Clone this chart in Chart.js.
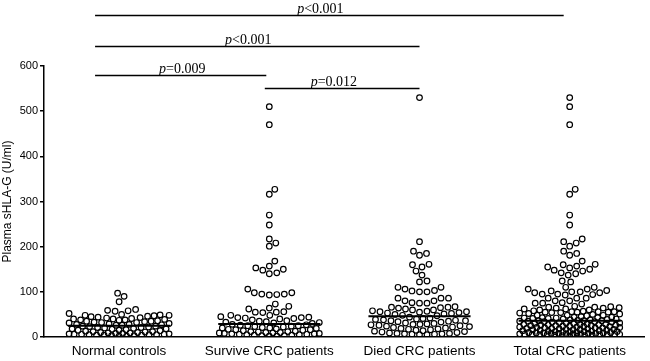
<!DOCTYPE html>
<html lang="en">

<head>
    <meta charset="UTF-8">
    <title>Plasma sHLA-G</title>
    <script src="https://cdn.jsdelivr.net/npm/chart.js@4.4.1/dist/chart.umd.min.js"></script>
    <style>
        html, body { margin: 0; padding: 0; background: #fff; }
        canvas { display: block; }
    </style>
</head>

<body>
    <canvas id="chart" width="650" height="361"></canvas>

    <script>
        const categories = ['Normal controls', 'Survive CRC patients', 'Died CRC patients', 'Total CRC patients'];
        const yTicks = [0, 100, 200, 300, 400, 500, 600];

        // plasma sHLA-G (U/ml)
        const normalControls = [
            97, 90, 78, 61, 59, 58, 57,
            52, 50, 49, 48, 48, 47, 46, 45,
            44, 43, 42, 41, 40, 40, 39, 38, 38, 37, 36, 35, 35, 34, 33, 32, 32, 31, 30, 29, 28, 28, 27, 26, 26,
            24, 24, 23, 22, 21, 21, 20, 19, 18, 18, 17, 16, 15, 15, 14, 13, 12, 12, 11, 10,
            10, 9, 9, 8, 8, 7, 7, 6, 6, 6, 5, 5, 5, 4, 4, 4, 3, 3, 2, 2
        ];
        const survivePatients = [
            510, 470, 327, 316, 270, 248, 217, 208, 201, 168, 157, 153, 150, 148, 142, 140,
            106, 98, 98, 95, 95, 94, 93, 73, 68, 64, 62, 56, 55, 55, 54, 48, 48, 45, 44, 43, 43, 42, 41, 40,
            38, 36, 35, 34, 33, 32, 31, 30,
            28, 27, 26, 25, 25, 24, 23, 22, 21, 20, 20, 19, 18, 17, 16, 16, 15, 14, 13, 12,
            12, 11, 10, 10, 9, 9, 8, 8, 7, 7, 6, 6, 5, 5, 4, 4, 3, 3, 2, 2
        ];
        const diedPatients = [
            530, 211, 190, 185, 181, 161, 160, 155, 146, 137, 124, 122,
            110, 110, 106, 103, 102, 100, 100, 86, 86, 86, 80, 80, 76, 75, 75,
            67, 66, 66, 65, 64, 62, 60, 60, 58, 57, 56, 56, 55,
            54, 53, 52, 51, 50, 48, 47,
            44, 42, 41, 40, 39, 38, 37, 36, 36, 35, 34, 33, 31, 30, 29, 28, 28, 27, 26, 25,
            24, 23, 22, 21, 20, 19, 18, 17, 16, 15, 14, 13, 12, 11, 10, 9, 8, 8, 7, 7, 6, 6, 5, 5
        ];
        const totalPatients = survivePatients.concat(diedPatients);

        const medians = [25, 29, 46, 36];

        const groups = [normalControls, survivePatients, diedPatients, totalPatients];

        // comparison bars above the plot (x in category units, level in U/ml)
        const brackets = [
            { from: -0.16, to: 2.96, level: 713, textAt: 1.34, text: '<0.001' },
            { from: -0.16, to: 2.0, level: 644, textAt: 0.86, text: '<0.001' },
            { from: -0.16, to: 0.98, level: 581, textAt: 0.42, text: '=0.009' },
            { from: 0.97, to: 2.0, level: 551, textAt: 1.43, text: '=0.012' },
        ];

        const bracketPlugin = {
            id: 'brackets',
            afterDraw(chart) {
                const { ctx, scales: { x, y } } = chart;
                ctx.save();
                ctx.strokeStyle = '#000';
                ctx.fillStyle = '#000';
                ctx.lineWidth = 1.5;
                ctx.textBaseline = 'alphabetic';
                brackets.forEach(b => {
                    const py = Math.round(y.getPixelForValue(b.level)) + 0.5;
                    ctx.beginPath();
                    ctx.moveTo(x.getPixelForValue(b.from), py);
                    ctx.lineTo(x.getPixelForValue(b.to), py);
                    ctx.stroke();

                    ctx.font = 'italic 14px "Liberation Serif"';
                    const wp = ctx.measureText('p').width;
                    ctx.font = '14px "Liberation Serif"';
                    const wt = ctx.measureText(b.text).width;
                    const tx = x.getPixelForValue(b.textAt) - (wp + wt) / 2;
                    ctx.font = 'italic 14px "Liberation Serif"';
                    ctx.fillText('p', tx, py - 3);
                    ctx.font = '14px "Liberation Serif"';
                    ctx.fillText(b.text, tx + wp, py - 3);
                });
                ctx.restore();
            }
        };

        // spread the dots sideways so they sit next to each other (beeswarm)
        const swarmOffsets = (values, pxPerY) => {
            const gap = 7.2, halfWidth = 50;
            const placed = [];
            const offsets = new Array(values.length).fill(0);
            const order = values.map((v, k) => k).sort((a, b) => values[a] - values[b]);
            order.forEach(k => {
                const py = values[k] * pxPerY;
                let best = 0, bestDist = -1;
                for (let s = 0; s <= halfWidth * 4; s++) {
                    const px = s === 0 ? 0 : (s % 2 ? 1 : -1) * Math.ceil(s / 2) * 0.5;
                    let d = Infinity;
                    for (const p of placed) {
                        if (Math.abs(p[1] - py) >= gap) continue;
                        d = Math.min(d, Math.hypot(p[0] - px, p[1] - py));
                    }
                    if (d >= gap) { best = px; bestDist = d; break; }
                    if (d > bestDist + 0.01) { best = px; bestDist = d; }
                }
                placed.push([best, py]);
                offsets[k] = best;
            });
            return offsets;
        };

        const dotDatasets = groups.map((values, i) => ({
            type: 'scatter',
            data: values.map(v => ({ x: i, y: v })),
            pointRadius: 2.8,
            pointBorderWidth: 1.2,
            pointBorderColor: '#000',
            pointBackgroundColor: 'rgba(0,0,0,0)',
            order: 2,
        }));

        const medianDatasets = medians.map((m, i) => ({
            type: 'line',
            data: [{ x: i - 0.34, y: m }, { x: i + 0.34, y: m }],
            borderColor: '#000',
            borderWidth: 2,
            pointRadius: 0,
            order: 0,
        }));

        const chart = new Chart(document.getElementById('chart'), {
            type: 'scatter',
            data: { datasets: dotDatasets.concat(medianDatasets) },
            options: {
                responsive: false,
                animation: false,
                events: [],
                layout: { padding: { top: 66, left: 0, right: 0, bottom: 0 } },
                plugins: { legend: { display: false }, tooltip: { enabled: false } },
                scales: {
                    x: {
                        type: 'linear',
                        min: -0.5,
                        max: 3.5,
                        afterBuildTicks: scale => { scale.ticks = categories.map((c, i) => ({ value: i })); },
                        afterFit: scale => { scale.height = 24; },
                        grid: { display: false, drawTicks: false },
                        border: { display: true, color: '#000', width: 1.5 },
                        ticks: {
                            autoSkip: false,
                            maxRotation: 0,
                            padding: 6,
                            color: '#000',
                            font: { family: '"Liberation Sans"', size: 13.5 },
                            callback: value => categories[value],
                        },
                    },
                    y: {
                        min: 0,
                        max: 600,
                        afterBuildTicks: scale => { scale.ticks = yTicks.map(v => ({ value: v })); },
                        afterFit: scale => { scale.width = 44; },
                        grid: { drawOnChartArea: false, tickLength: 4, color: '#000', lineWidth: 1.5 },
                        border: { display: true, color: '#000', width: 1.5 },
                        ticks: {
                            padding: 2,
                            color: '#000',
                            font: { family: '"Liberation Sans"', size: 11 },
                        },
                        title: {
                            display: true,
                            text: 'Plasma sHLA-G (U/ml)',
                            color: '#000',
                            padding: 0,
                            font: { family: '"Liberation Sans"', size: 12 },
                        },
                    },
                },
            },
            plugins: [bracketPlugin],
        });

        const xs = chart.scales.x, ys = chart.scales.y;
        const pxPerX = xs.getPixelForValue(1) - xs.getPixelForValue(0);
        const pxPerY = (ys.getPixelForValue(0) - ys.getPixelForValue(100)) / 100;
        groups.forEach((values, i) => {
            const offsets = swarmOffsets(values, pxPerY);
            chart.data.datasets[i].data = values.map((v, k) => ({ x: i + offsets[k] / pxPerX, y: v }));
        });
        chart.update('none');
    </script>
</body>

</html>
